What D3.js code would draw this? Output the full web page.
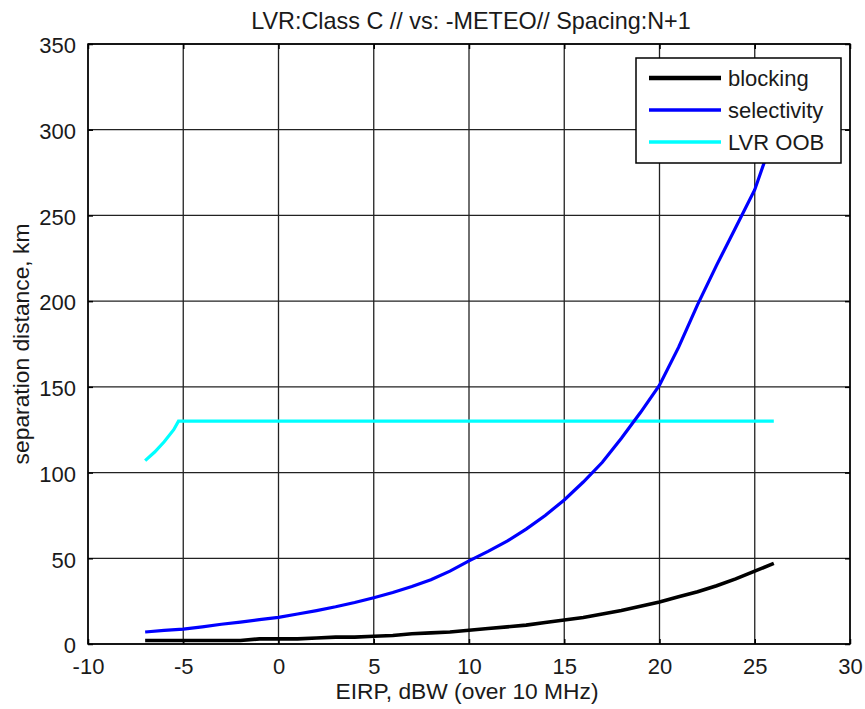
<!DOCTYPE html>
<html><head><meta charset="utf-8">
<script src="https://cdn.jsdelivr.net/npm/d3@7"></script>
<style>body{margin:0;background:#fff}svg{display:block}text{font-family:"Liberation Sans",Arial,sans-serif;fill:#1a1a1a}</style>
</head><body><svg id="c" width="865" height="709"></svg>
<script>
const xTicks = [-10,-5,0,5,10,15,20,25,30];
const yTicks = [0,50,100,150,200,250,300,350];
const eirp = [-7,-6,-5,-4,-3,-2,-1,0,1,2,3,4,5,6,7,8,9,10,11,12,13,14,15,16,17,18,19,20,21,22,23,24,25,26];
const blocking = [2,2,2,2,2,2,3,3,3,3.5,4,4,4.5,5,6,6.5,7,8,9,10,11,12.5,14,15.5,17.5,19.5,22,24.5,27.5,30.5,34,38,42.5,47];
const selectivity = [7,8,8.7,10,11.5,12.8,14.2,15.5,17.5,19.5,21.7,24.2,27,30,33.5,37.5,42.5,48.5,54,60,67,75,84,94.5,106,120,135,151,173,198,221,243,265,297];
const oobX = [-7,-6.5,-6,-5.5,-5.25,26];
const oobY = [107,112,118,125,130,130];
const seriesNames = ["blocking","selectivity","LVR OOB"];
const seriesColors = ["#000000","#0000ff","#00ffff"];

const svg = d3.select("#c");
const L=88,R=850,T=44,B=644;
const x = d3.scaleLinear().domain([-10,30]).range([L,R]);
const y = d3.scaleLinear().domain([0,350]).range([B,T]);
const fs = 22;
const fmt = d => String(d);

// grid
const g = svg.append("g");
g.selectAll(".gx").data(xTicks).join("line").attr("x1",d=>x(d)).attr("x2",d=>x(d)).attr("y1",T).attr("y2",B).attr("stroke","#222").attr("stroke-width",1.3);
g.selectAll(".gy").data(yTicks).join("line").attr("y1",d=>y(d)).attr("y2",d=>y(d)).attr("x1",L).attr("x2",R).attr("stroke","#222").attr("stroke-width",1.3);

// axes (inward ticks on all sides)
const ax = (gen, tr) => svg.append("g").attr("transform",tr).call(gen).call(s=>{s.select(".domain").remove();s.selectAll("line").attr("stroke","#000").attr("stroke-width",1.5);});
const bx = ax(d3.axisBottom(x).tickValues(xTicks).tickSize(-5).tickPadding(14).tickFormat(fmt),`translate(0,${B})`);
bx.selectAll("text").attr("font-size",fs).attr("font-family","Liberation Sans, Arial").attr("fill","#1a1a1a");
ax(d3.axisTop(x).tickValues(xTicks).tickSize(-5).tickFormat(""),`translate(0,${T})`);
const ly = ax(d3.axisLeft(y).tickValues(yTicks).tickSize(-5).tickPadding(12).tickFormat(fmt),`translate(${L},0)`);
ly.selectAll("text").attr("font-size",fs).attr("font-family","Liberation Sans, Arial").attr("fill","#1a1a1a").attr("dy","0.4em");
ax(d3.axisRight(y).tickValues(yTicks).tickSize(-5).tickFormat(""),`translate(${R},0)`);

// series
const line = d3.line().x(d=>x(d[0])).y(d=>y(d[1]));
svg.append("clipPath").attr("id","cp").append("rect").attr("x",L).attr("y",T).attr("width",R-L).attr("height",B-T);
const pg = svg.append("g").attr("clip-path","url(#cp)");
pg.append("path").datum(oobX.map((v,i)=>[v,oobY[i]])).attr("d",line).attr("fill","none").attr("stroke",seriesColors[2]).attr("stroke-width",3.2);
pg.append("path").datum(eirp.map((v,i)=>[v,selectivity[i]])).attr("d",line).attr("fill","none").attr("stroke",seriesColors[1]).attr("stroke-width",3.2);
pg.append("path").datum(eirp.map((v,i)=>[v,blocking[i]])).attr("d",line).attr("fill","none").attr("stroke",seriesColors[0]).attr("stroke-width",3.6);

// box
svg.append("rect").attr("x",L).attr("y",T).attr("width",R-L).attr("height",B-T).attr("fill","none").attr("stroke","#000").attr("stroke-width",1.5);

// legend
const lg = svg.append("g");
lg.append("rect").attr("x",636).attr("y",58).attr("width",205).attr("height",105).attr("fill","#fff").attr("stroke","#000").attr("stroke-width",1.5);
seriesNames.forEach((n,i)=>{
  const yy = 78 + i*32;
  lg.append("line").attr("x1",649).attr("x2",721).attr("y1",yy).attr("y2",yy).attr("stroke",seriesColors[i]).attr("stroke-width",i==0?4.5:3.5);
  lg.append("text").attr("x",728).attr("y",yy).attr("dy","0.35em").attr("font-size",fs).text(n);
});

// titles
svg.append("text").attr("x",(L+R)/2+2).attr("y",29).attr("text-anchor","middle").attr("font-size",23.4).text("LVR:Class C // vs: -METEO// Spacing:N+1");
svg.append("text").attr("x",(L+R)/2-2).attr("y",699).attr("text-anchor","middle").attr("font-size",22.8).text("EIRP, dBW (over 10 MHz)");
svg.append("text").attr("transform",`translate(29,${(T+B)/2}) rotate(-90)`).attr("text-anchor","middle").attr("font-size",22.8).text("separation distance, km");
</script></body></html>
